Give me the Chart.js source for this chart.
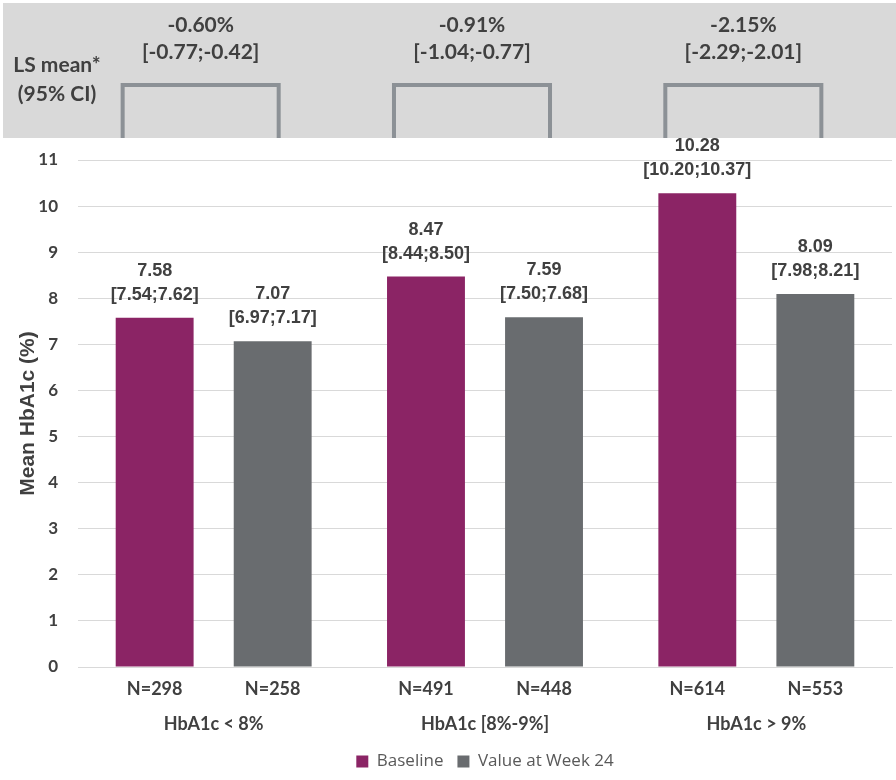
<!DOCTYPE html>
<html lang="en">
<head>
<meta charset="UTF-8">
<title>Mean HbA1c by baseline group</title>
<script src="https://cdn.jsdelivr.net/npm/chart.js"></script>
<style>
  html, body { margin: 0; padding: 0; background: #fff; }
  #wrap { width: 896px; height: 780px; }
</style>
</head>
<body>
<div id="wrap"><canvas id="myChart" width="896" height="780"></canvas></div>
<script>
    // Data
    var groups = ['HbA1c < 8%', 'HbA1c [8%-9%]', 'HbA1c > 9%'];
    var baseline = [7.58, 8.47, 10.28];
    var baselineCI = ['[7.54;7.62]', '[8.44;8.50]', '[10.20;10.37]'];
    var week24 = [7.07, 7.59, 8.09];
    var week24CI = ['[6.97;7.17]', '[7.50;7.68]', '[7.98;8.21]'];
    var baselineN = ['N=298', 'N=491', 'N=614'];
    var week24N = ['N=258', 'N=448', 'N=553'];
    var lsMean = ['-0.60%', '-0.91%', '-2.15%'];
    var lsMeanCI = ['[-0.77;-0.42]', '[-1.04;-0.77]', '[-2.29;-2.01]'];
    var yTicks = [0, 1, 2, 3, 4, 5, 6, 7, 8, 9, 10, 11];

    var textColor = '#404040';
    var lato = 'Lato, "Open Sans", sans-serif';
    var arial = '"Liberation Sans", Arial, sans-serif';

    // Gray band on top with LS mean and brackets, plus labels on the bars
    var extras = {
        id: 'extras',
        beforeDraw: function (chart) {
            var c = chart.ctx;
            c.save();
            c.fillStyle = '#d9d9d9';
            c.fillRect(3, 3, chart.width - 3, 135);
            c.fillStyle = textColor;
            c.font = 'bold 21px ' + lato;
            c.textAlign = 'center';
            c.textBaseline = 'middle';
            c.fillText('LS mean*', 57, 65);
            c.fillText('(95% CI)', 57, 94);
            var m0 = chart.getDatasetMeta(0), m1 = chart.getDatasetMeta(1);
            for (var i = 0; i < groups.length; i++) {
                var l = m0.data[i].x - 32, r = m1.data[i].x + 6;
                c.fillStyle = textColor;
                c.fillText(lsMean[i], (l + r) / 2, 25);
                c.fillText(lsMeanCI[i], (l + r) / 2, 52);
                c.strokeStyle = '#8c9196';
                c.lineWidth = 4;
                c.beginPath();
                c.moveTo(l, 138);
                c.lineTo(l, 85);
                c.lineTo(r, 85);
                c.lineTo(r, 138);
                c.stroke();
            }
            c.restore();
        },
        afterDatasetsDraw: function (chart) {
            var c = chart.ctx;
            c.save();
            c.fillStyle = textColor;
            c.textAlign = 'center';
            c.textBaseline = 'middle';
            var sets = [[baseline, baselineCI, baselineN], [week24, week24CI, week24N]];
            sets.forEach(function (s, d) {
                chart.getDatasetMeta(d).data.forEach(function (bar, i) {
                    c.font = 'bold 18px ' + arial;
                    c.fillText(s[0][i].toFixed(2), bar.x, bar.y - 47);
                    c.fillText(s[1][i], bar.x, bar.y - 23);
                    c.font = 'bold 18px ' + lato;
                    c.fillText(s[2][i], bar.x, chart.chartArea.bottom + 22);
                });
            });
            c.restore();
        }
    };

    var ctx = document.getElementById('myChart').getContext('2d');
    var myChart = new Chart(ctx, {
        type: 'bar',
        data: {
            labels: groups,
            datasets: [{
                label: 'Baseline',
                data: baseline,
                backgroundColor: '#8b2465'
            }, {
                label: 'Value at Week 24',
                data: week24,
                backgroundColor: '#696c6f'
            }]
        },
        options: {
            responsive: false,
            animation: false,
            layout: { padding: { top: 160, right: 4, left: 0, bottom: 0 } },
            datasets: { bar: { categoryPercentage: 0.87, barPercentage: 0.66 } },
            plugins: {
                legend: {
                    position: 'bottom',
                    fullSize: false,
                    labels: {
                        boxWidth: 12, boxHeight: 12, padding: 14,
                        color: '#595959',
                        font: { family: '"Open Sans", Lato, sans-serif', size: 17 }
                    }
                },
                tooltip: { enabled: false }
            },
            scales: {
                x: {
                    grid: { display: false },
                    border: { color: '#d9d9d9' },
                    afterFit: function (s) { s.height = 72; },
                    ticks: {
                        color: textColor, padding: 38,
                        font: { family: lato, size: 18, weight: 'bold' }
                    }
                },
                y: {
                    min: 0, max: 11,
                    afterBuildTicks: function (axis) {
                        axis.ticks = yTicks.map(function (v) { return { value: v }; });
                    },
                    afterFit: function (s) { s.width = 78; },
                    grid: { color: '#d9d9d9', drawTicks: false },
                    border: { display: false },
                    ticks: {
                        color: textColor, padding: 20,
                        font: { family: lato, size: 17, weight: 'bold' }
                    },
                    title: {
                        display: true, text: 'Mean HbA1c (%)', color: textColor,
                        padding: { top: 16, bottom: 0 },
                        font: { family: arial, size: 21, weight: 'bold' }
                    }
                }
            }
        },
        plugins: [extras]
    });
</script>
</body>
</html>
